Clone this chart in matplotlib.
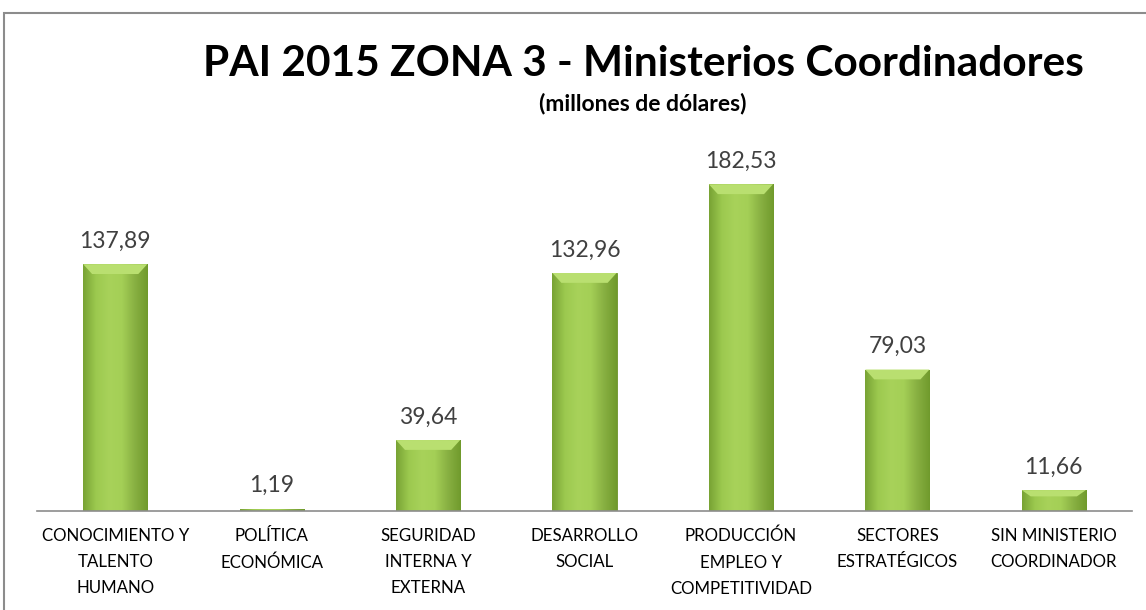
import matplotlib
matplotlib.use("Agg")
import matplotlib.pyplot as plt
import numpy as np
from matplotlib.patches import Rectangle
from matplotlib.colors import LinearSegmentedColormap

categories = ["CONOCIMIENTO Y\nTALENTO\nHUMANO", "POLÍTICA\nECONÓMICA", "SEGURIDAD\nINTERNA Y\nEXTERNA",
              "DESARROLLO\nSOCIAL", "PRODUCCIÓN\nEMPLEO Y\nCOMPETITIVIDAD", "SECTORES\nESTRATÉGICOS",
              "SIN MINISTERIO\nCOORDINADOR"]
values = [137.89, 1.19, 39.64, 132.96, 182.53, 79.03, 11.66]
value_labels = ["137,89", "1,19", "39,64", "132,96", "182,53", "79,03", "11,66"]

W, H = 1146, 610
fig = plt.figure(figsize=(W/100, H/100), dpi=100)
fam = ["Lato", "DejaVu Sans"]

# outer frame
fig.patches.append(Rectangle((4/W, -0.1), 1.2, 1 - 13/H + 0.1, transform=fig.transFigure,
                             fill=False, edgecolor="#8c8c8c", linewidth=1.5))

ax = fig.add_axes([37/W, 1 - 511/H, (1132-37)/W, (511-153)/H])
x = np.arange(len(values))
bw = 0.41

cmap = LinearSegmentedColormap.from_list("g", ["#78a234", "#9cc94f", "#a8d25a", "#a4cf56", "#88b042", "#709a2c"])
grad = np.linspace(0, 1, 256).reshape(1, -1)
bars = ax.bar(x, values, width=bw, color="#94c046", edgecolor="#6a9128", linewidth=0.6, zorder=2)
for b in bars:
    x0, y0, w, h = b.get_x(), b.get_y(), b.get_width(), b.get_height()
    im = ax.imshow(grad, cmap=cmap, extent=(x0, x0 + w, y0, y0 + h), aspect="auto", zorder=2.5)
    im.set_clip_path(b)
    if h > 3:
        bev = min(5.5, h * 0.3)
        ax.fill([x0, x0 + w, x0 + w*0.86, x0 + w*0.14], [y0 + h, y0 + h, y0 + h - bev, y0 + h - bev],
                color="#b9df70", zorder=2.6, linewidth=0)
ax.set_xlim(-0.5, len(values) - 0.5)
ax.set_ylim(0, 200)

for xi, v, lab in zip(x, values, value_labels):
    ax.text(xi, v + 7, lab, ha="center", va="bottom", fontsize=16.5, color="#404040", family=fam)

for s in ["left", "right", "top"]:
    ax.spines[s].set_visible(False)
ax.spines["bottom"].set_color("#8c8c8c")
ax.spines["bottom"].set_linewidth(1.2)
ax.set_yticks([])
ax.set_xticks(x)
ax.set_xticklabels(categories, fontsize=12.2, family=fam, linespacing=1.8)
ax.tick_params(axis="x", length=0, pad=12)

fig.text(643/W, 1 - 64/H, "PAI 2015 ZONA 3 - Ministerios Coordinadores", ha="center", va="center",
         fontsize=30.5, fontweight="bold", family=fam)
fig.text(643/W, 1 - 104/H, "(millones de dólares)", ha="center", va="center",
         fontsize=16.5, fontweight="bold", family=fam)

fig.savefig("out.png", dpi=100)
